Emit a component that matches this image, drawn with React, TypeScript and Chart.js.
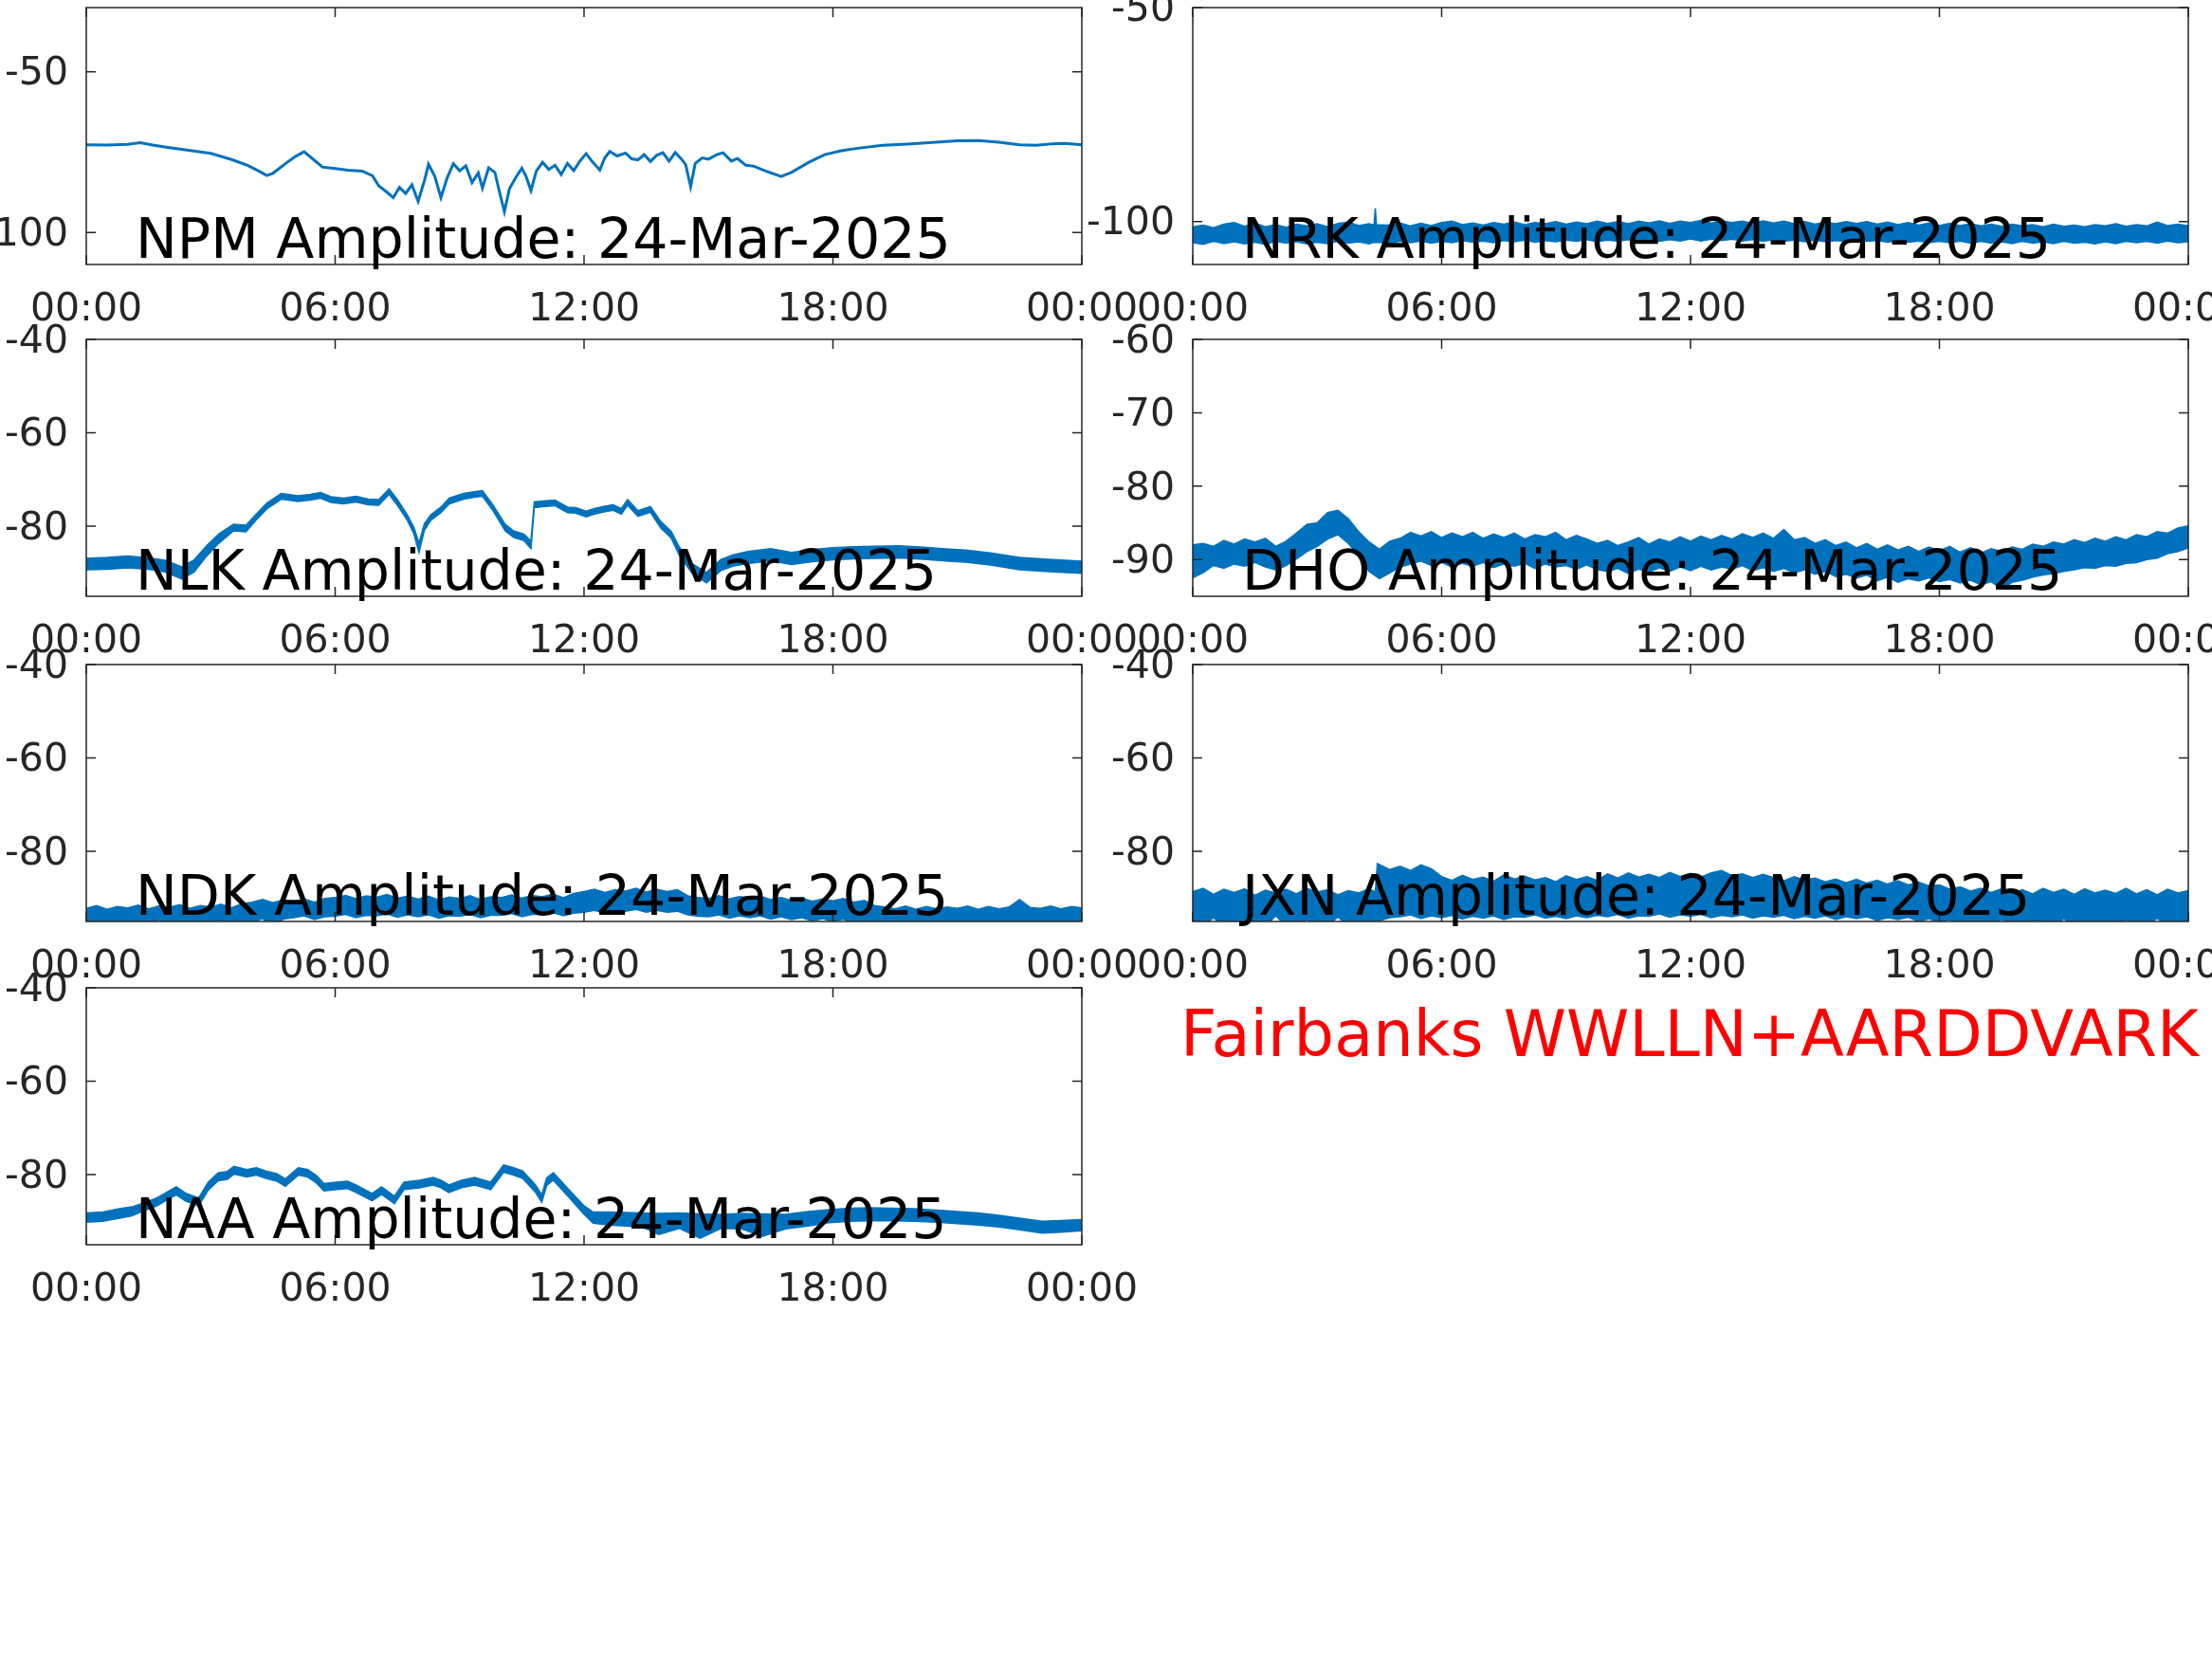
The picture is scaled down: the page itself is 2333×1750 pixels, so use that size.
import React, { useEffect, useRef } from 'react';
import { Chart, registerables } from 'chart.js';

Chart.register(...registerables);

// ---------------- data ----------------
const xTickValues = [0, 6, 12, 18, 24];
const xTickLabels = ['00:00', '06:00', '12:00', '18:00', '00:00'];
const dateLabel = '24-Mar-2025';
const stationText = 'Fairbanks WWLLN+AARDDVARK';

const npmYTicks = [-100, -50];
const nrkYTicks = [-100, -50];
const nlkYTicks = [-80, -60, -40];
const dhoYTicks = [-90, -80, -70, -60];
const ndkYTicks = [-80, -60, -40];
const jxnYTicks = [-80, -60, -40];
const naaYTicks = [-80, -60, -40];

// sample times (hours) of the quarter-hour envelope readings
const quarterHours = [
  0, 0.25, 0.5, 0.75, 1, 1.25, 1.5, 1.75, 2, 2.25, 2.5, 2.75, 3, 3.25, 3.5, 3.75,
  4, 4.25, 4.5, 4.75, 5, 5.25, 5.5, 5.75, 6, 6.25, 6.5, 6.75, 7, 7.25, 7.5, 7.75,
  8, 8.25, 8.5, 8.75, 9, 9.25, 9.5, 9.75, 10, 10.25, 10.5, 10.75, 11, 11.25, 11.5, 11.75,
  12, 12.25, 12.5, 12.75, 13, 13.25, 13.5, 13.75, 14, 14.25, 14.5, 14.75, 15, 15.25, 15.5, 15.75,
  16, 16.25, 16.5, 16.75, 17, 17.25, 17.5, 17.75, 18, 18.25, 18.5, 18.75, 19, 19.25, 19.5, 19.75,
  20, 20.25, 20.5, 20.75, 21, 21.25, 21.5, 21.75, 22, 22.25, 22.5, 22.75, 23, 23.25, 23.5, 23.75, 24,
];

// NPM (thin line)
const npmTime = [0, 0.5, 1, 1.3, 1.6, 2, 2.5, 3, 3.5, 3.9, 4.2, 4.35, 4.5, 4.8, 5.05, 5.25, 5.45, 5.7, 6, 6.3, 6.65, 6.9, 7.05, 7.25, 7.4, 7.55, 7.7, 7.85, 8, 8.15, 8.25, 8.4, 8.55, 8.7, 8.85, 9, 9.15, 9.3, 9.45, 9.55, 9.7, 9.85, 9.95, 10.08, 10.2, 10.35, 10.5, 10.6, 10.72, 10.85, 11, 11.15, 11.3, 11.45, 11.6, 11.75, 11.9, 12.05, 12.2, 12.38, 12.5, 12.62, 12.8, 13, 13.15, 13.3, 13.45, 13.6, 13.75, 13.9, 14.05, 14.2, 14.35, 14.45, 14.57, 14.68, 14.85, 15, 15.2, 15.35, 15.55, 15.7, 15.9, 16.1, 16.4, 16.75, 17, 17.4, 17.8, 18.2, 18.6, 19.2, 19.8, 20.4, 21, 21.5, 22, 22.5, 22.9, 23.3, 23.6, 24];
const npmValue = [-72.7, -72.8, -72.6, -72.1, -72.8, -73.6, -74.5, -75.4, -77.3, -79.2, -81.2, -82.3, -81.6, -78.6, -76.3, -74.9, -77.0, -79.7, -80.1, -80.6, -80.9, -82.4, -85.5, -87.5, -89.2, -86.0, -87.9, -85.2, -90.3, -84.0, -78.8, -82.5, -89.2, -83.0, -78.6, -80.8, -79.3, -84.5, -81.5, -86.2, -79.9, -81.3, -86.8, -93.6, -86.5, -83.0, -80.0, -82.5, -87.0, -80.9, -78.2, -80.4, -79.1, -82.0, -78.5, -80.8, -77.8, -75.5, -78.0, -80.6, -76.8, -74.8, -76.2, -75.3, -77.1, -77.4, -75.8, -77.9, -76.0, -75.2, -77.8, -75.1, -77.2, -78.9, -85.8, -78.5, -76.8, -77.2, -75.8, -75.2, -77.8, -77.0, -79.1, -79.4, -81.0, -82.6, -81.3, -78.3, -75.8, -74.6, -73.8, -72.9, -72.5, -72.0, -71.5, -71.4, -71.9, -72.7, -72.9, -72.4, -72.3, -72.7];

// NRK (noise band, upper/lower envelope)
const nrkTime = [
  0, 0.25, 0.5, 0.75, 1, 1.25, 1.5, 1.75, 2, 2.25, 2.5, 2.75, 3, 3.25, 3.5, 3.75,
  4, 4.25, 4.37, 4.4, 4.43, 4.75, 5, 5.25, 5.5, 5.75, 6, 6.25, 6.5, 6.75, 7, 7.25, 7.5, 7.75,
  8, 8.25, 8.5, 8.75, 9, 9.25, 9.5, 9.75, 10, 10.25, 10.5, 10.75, 11, 11.25, 11.5, 11.75,
  12, 12.25, 12.5, 12.75, 13, 13.25, 13.5, 13.75, 14, 14.25, 14.5, 14.75, 15, 15.25, 15.5, 15.75,
  16, 16.25, 16.5, 16.75, 17, 17.25, 17.5, 17.75, 18, 18.25, 18.5, 18.75, 19, 19.25, 19.5, 19.75,
  20, 20.25, 20.5, 20.75, 21, 21.25, 21.5, 21.75, 22, 22.25, 22.5, 22.75, 23, 23.25, 23.5, 23.75, 24,
];
const nrkHigh = [
  -101.2, -100.8, -101.4, -100.6, -100.2, -101.1, -100.3, -101.2, -100.7, -101.3, -100.6, -101.0, -100.5, -101.2, -100.4, -100.1,
  -100.9, -100.5, -100.8, -96.9, -100.7, -100.8, -100.3, -101.0, -100.4, -100.9, -100.2, -99.9, -100.7, -100.3, -100.8, -100.2, -100.6, -100.1,
  -100.7, -100.2, -100.5, -100.0, -100.6, -100.1, -100.5, -99.9, -100.4, -100.0, -100.5, -99.9, -100.3, -99.8, -100.4, -99.9,
  -100.2, -99.7, -100.3, -99.8, -100.2, -99.9, -100.4, -99.8, -100.3, -99.9, -100.5, -100.0, -100.6, -100.1, -100.5, -100.0,
  -100.4, -100.0, -100.6, -100.1, -100.7, -100.2, -100.8, -100.3, -100.9, -100.4, -100.9, -100.5, -101.0, -100.6, -101.1, -100.6,
  -101.0, -100.7, -101.2, -100.6, -101.1, -100.8, -101.2, -100.7, -101.0, -100.5, -101.1, -100.7, -101.0, -100.1, -100.9, -100.6, -101.0,
];
const nrkLow = [
  -104.9, -105.3, -104.6, -105.1, -104.7, -105.2, -104.8, -105.3, -104.6, -105.0, -104.7, -105.2, -104.8, -105.1, -104.6, -105.0,
  -104.7, -105.2, -104.8, -104.9, -104.8, -105.0, -104.6, -104.9, -104.5, -105.0, -104.6, -104.9, -104.4, -104.8, -104.5, -104.9, -104.4, -104.7,
  -104.3, -104.8, -104.4, -104.7, -104.3, -104.6, -104.2, -104.7, -104.3, -104.6, -104.2, -104.5, -104.1, -104.6, -104.2, -104.5,
  -104.0, -104.5, -104.1, -104.4, -104.1, -104.5, -104.2, -104.6, -104.2, -104.6, -104.3, -104.7, -104.3, -104.7, -104.4, -104.6,
  -104.2, -104.6, -104.4, -104.8, -104.4, -104.8, -104.5, -104.9, -104.6, -104.9, -104.5, -105.0, -104.6, -105.0, -104.7, -105.1,
  -104.6, -105.0, -104.7, -105.1, -104.6, -105.0, -104.8, -105.2, -104.7, -105.1, -104.6, -104.9, -104.6, -105.0, -104.5, -104.9, -104.7,
];

// NLK
const nlkTime = [0, 0.5, 1, 1.5, 1.9, 2.3, 2.6, 2.9, 3.2, 3.55, 3.85, 4.1, 4.35, 4.7, 5.1, 5.4, 5.65, 5.9, 6.2, 6.5, 6.8, 7.05, 7.3, 7.5, 7.75, 7.9, 8.02, 8.15, 8.3, 8.55, 8.75, 9.1, 9.35, 9.55, 9.8, 10.1, 10.3, 10.55, 10.72, 10.8, 11, 11.3, 11.6, 11.8, 12.05, 12.25, 12.5, 12.7, 12.9, 13.05, 13.3, 13.6, 13.85, 14.1, 14.3, 14.6, 14.95, 15.3, 15.6, 15.95, 16.5, 17, 17.5, 18, 18.5, 19, 19.6, 20.2, 20.8, 21.2, 21.8, 22.5, 23.2, 24];
const nlkHigh = [-86.9, -86.7, -86.4, -86.8, -87.3, -88.7, -87.2, -84.2, -81.6, -79.6, -79.8, -77.4, -75.1, -73.0, -73.5, -73.2, -72.8, -73.7, -74.0, -73.6, -74.2, -74.3, -72.0, -74.3, -77.7, -80.3, -83.6, -79.5, -77.6, -75.9, -74.0, -73.0, -72.6, -72.4, -75.4, -79.6, -81.0, -81.7, -83.2, -74.8, -74.6, -74.4, -75.9, -76.0, -76.8, -76.2, -75.7, -75.4, -76.2, -74.3, -76.7, -75.8, -79.0, -81.1, -84.5, -88.0, -89.9, -87.1, -86.1, -85.4, -84.8, -85.6, -85.0, -84.6, -84.4, -84.3, -84.2, -84.5, -84.9, -85.1, -85.7, -86.7, -87.1, -87.5];
const nlkLow = [-89.3, -89.2, -88.9, -89.2, -89.8, -91.3, -89.8, -86.4, -83.6, -81.0, -81.2, -78.6, -76.3, -74.2, -74.7, -74.4, -74.0, -74.9, -75.2, -74.8, -75.4, -75.5, -73.2, -75.5, -78.9, -81.7, -85.6, -80.9, -78.8, -77.1, -75.2, -74.2, -73.8, -73.6, -76.6, -81.0, -82.4, -83.1, -84.8, -76.0, -75.8, -75.6, -77.1, -77.2, -78.0, -77.4, -76.9, -76.6, -77.4, -75.5, -77.9, -77.0, -80.4, -82.5, -86.3, -90.0, -92.1, -89.5, -88.5, -88.0, -87.4, -88.2, -87.6, -87.2, -87.0, -86.9, -86.8, -87.1, -87.5, -87.7, -88.3, -89.3, -89.7, -90.1];

// DHO (quarter-hour envelope)
const dhoHigh = [
  -88.0, -87.8, -88.2, -87.4, -87.9, -87.2, -87.6, -87.1, -88.2, -87.5, -86.4, -85.2, -85.0, -83.6, -83.3, -84.4,
  -86.2, -87.6, -88.6, -87.5, -87.1, -86.3, -86.8, -86.2, -87.0, -86.4, -86.9, -86.3, -87.1, -86.5, -87.0, -86.4,
  -87.2, -86.6, -86.9, -86.3, -87.3, -86.7, -87.2, -87.8, -87.4, -88.1, -87.6, -87.0, -87.9, -87.2, -87.6, -86.9,
  -87.5, -86.8, -87.3, -86.7, -87.2, -86.5, -87.0, -86.4, -87.1, -85.9, -87.3, -87.0, -87.8, -87.3, -88.1, -87.6,
  -88.4, -87.8, -88.6, -88.0, -88.7, -88.2, -88.9, -88.3, -88.8, -88.2, -89.0, -88.4, -89.1, -88.5, -88.9, -88.3,
  -88.6, -87.9, -88.2, -87.6, -87.9, -87.3, -87.7, -87.1, -87.5, -86.9, -87.3, -86.6, -86.9, -86.2, -86.4, -85.7, -85.4,
];
const dhoLow = [
  -92.5, -91.8, -90.8, -91.2, -90.6, -90.9, -90.4, -91.0, -91.4, -90.8, -89.9, -88.9, -88.2, -87.2, -86.6, -87.8,
  -89.4, -91.6, -92.6, -91.8, -91.0, -90.6, -90.2, -90.8, -90.4, -91.0, -90.5, -90.9, -90.4, -91.1, -90.6, -90.9,
  -90.5, -91.2, -90.6, -91.0, -90.8, -91.3, -90.7, -91.4, -91.6, -91.2, -91.9, -91.3, -91.7, -91.1, -91.6, -91.0,
  -91.5, -90.9, -91.4, -91.0, -91.3, -90.8, -91.5, -91.1, -91.6, -91.2, -91.8, -91.4, -92.0, -91.6, -92.3, -92.0,
  -92.5, -92.1, -92.9, -92.4, -93.1, -92.6, -92.9, -92.5, -93.0, -92.7, -93.2, -92.8, -93.4, -93.0, -94.0, -93.1,
  -92.8, -92.4, -92.1, -91.9, -91.6, -91.4, -91.1, -91.2, -90.8, -90.9, -90.5, -90.4, -90.0, -89.8, -89.2, -88.9, -88.4,
];

// NDK (quarter-hour envelope; lower edge runs below the axis)
const ndkHigh = [
  -92.2, -91.6, -92.4, -91.8, -92.1, -91.5, -92.3, -91.7, -92.0, -91.4, -92.2, -91.6, -91.9, -91.3, -92.1, -91.2,
  -90.9, -90.3, -91.0, -90.4, -90.8, -90.2, -90.9, -90.1, -89.9, -89.4, -90.1, -89.5, -89.8, -89.2, -90.0, -89.6,
  -90.2, -89.6, -90.4, -89.8, -90.1, -89.5, -90.3, -89.7, -89.9, -89.3, -90.0, -89.4, -89.7, -89.1, -89.9, -89.0,
  -88.6, -88.1, -88.8, -88.2, -88.5, -87.9, -88.7, -88.1, -88.6, -88.2, -89.5, -89.9, -90.1, -89.5, -90.2, -89.7,
  -90.0, -89.6, -90.3, -89.9, -90.5, -90.0, -90.7, -90.2, -90.6, -90.1, -90.9, -90.5, -91.6, -91.9, -92.3, -91.7,
  -92.4, -91.8, -92.3, -91.9, -92.2, -91.7, -92.4, -91.8, -92.3, -91.9, -90.3, -92.0, -92.2, -91.7, -92.3, -91.8, -92.1,
];
const ndkLow = [
  -96, -96, -94.8, -96, -96, -96, -96, -94.6, -96, -96, -95.0, -96, -96, -94.7, -96, -96,
  -95.2, -94.4, -96, -94.5, -94.2, -93.8, -94.6, -94.0, -93.9, -93.5, -94.2, -93.7, -93.8, -93.4, -94.1, -93.6,
  -94.0, -93.6, -94.3, -93.8, -93.9, -93.5, -94.2, -93.7, -93.7, -93.3, -94.0, -93.5, -93.5, -93.1, -93.8, -93.2,
  -93.0, -92.6, -93.2, -92.7, -92.8, -92.4, -93.0, -92.6, -93.0, -92.8, -93.6, -93.9, -94.0, -93.6, -94.3, -93.8,
  -94.2, -93.8, -94.5, -94.0, -94.6, -94.2, -94.9, -94.4, -95.0, -94.5, -95.4, -94.8, -95.5, -96, -96, -96,
  -96, -96, -96, -96, -96, -96, -96, -96, -96, -96, -96, -96, -96, -96, -96, -96, -96,
];

// JXN (envelope; lower edge runs below the axis)
const jxnTime = [
  0, 0.25, 0.5, 0.75, 1, 1.25, 1.5, 1.75, 2, 2.25, 2.5, 2.75, 3, 3.25, 3.5, 3.75,
  4, 4.25, 4.4, 4.45, 4.75, 5, 5.25, 5.5, 5.75, 6, 6.25, 6.5, 6.75, 7, 7.25, 7.5, 7.75,
  8, 8.25, 8.5, 8.75, 9, 9.25, 9.5, 9.75, 10, 10.25, 10.5, 10.75, 11, 11.25, 11.5, 11.75,
  12, 12.25, 12.5, 12.75, 13, 13.25, 13.5, 13.75, 14, 14.25, 14.5, 14.75, 15, 15.25, 15.5, 15.75,
  16, 16.25, 16.5, 16.75, 17, 17.25, 17.5, 17.75, 18, 18.25, 18.5, 18.75, 19, 19.25, 19.5, 19.75,
  20, 20.25, 20.5, 20.75, 21, 21.25, 21.5, 21.75, 22, 22.25, 22.5, 22.75, 23, 23.25, 23.5, 23.75, 24,
];
const jxnHigh = [
  -88.6, -87.9, -89.2, -88.1, -88.8, -88.0, -89.4, -88.3, -88.9, -88.1, -89.1, -87.9, -88.7, -88.2, -89.3, -88.4,
  -88.9, -88.0, -88.7, -82.6, -83.9, -83.2, -84.1, -82.9, -83.7, -85.4, -86.2, -85.1, -86.0, -85.5, -86.4, -85.0, -85.9,
  -85.3, -86.1, -85.6, -86.5, -85.2, -86.0, -85.4, -86.2, -84.8, -85.7, -84.6, -85.5, -84.9, -85.6, -84.5, -85.4,
  -84.7, -85.5, -84.6, -84.1, -85.2, -84.8, -85.6, -84.9, -85.6, -86.3, -85.4, -86.1, -85.7, -86.5, -85.9, -86.7,
  -86.0, -86.8, -86.2, -87.0, -86.3, -87.2, -86.6, -87.4, -87.2, -88.1, -87.6, -88.5, -87.9, -88.8, -88.0, -89.0,
  -88.2, -89.1, -87.9, -88.8, -88.1, -89.2, -88.0, -88.9, -88.3, -89.0, -87.9, -89.1, -88.2, -89.3, -88.1, -88.9, -88.4,
];
const jxnLow = [
  -96, -96, -94.2, -96, -96, -94.5, -96, -96, -93.8, -96, -96, -94.6, -96, -96, -94.0, -96,
  -96, -94.8, -96, -95.0, -94.2, -94.0, -93.6, -94.4, -93.8, -94.2, -93.7, -94.5, -93.9, -94.3, -93.8, -94.6, -94.0,
  -94.1, -93.6, -94.3, -93.9, -94.4, -93.8, -94.2, -93.7, -94.0, -93.5, -94.3, -93.8, -93.9, -93.4, -94.1, -93.6,
  -93.9, -93.5, -94.2, -93.7, -94.0, -93.6, -94.3, -93.8, -94.1, -93.7, -94.4, -93.9, -94.3, -93.8, -94.6, -94.0,
  -94.4, -94.0, -94.8, -94.2, -94.6, -94.1, -95.0, -94.4, -95.2, -94.6, -96, -94.8, -96, -96, -94.5, -96,
  -96, -94.7, -96, -96, -94.4, -96, -96, -94.9, -96, -96, -94.6, -96, -96, -94.3, -96, -96, -96,
];

// NAA
const naaTime = [0, 0.4, 0.8, 1.1, 1.4, 1.7, 1.95, 2.17, 2.4, 2.71, 2.94, 3.18, 3.4, 3.56, 3.87, 4.1, 4.33, 4.6, 4.8, 5.11, 5.34, 5.55, 5.73, 6.04, 6.3, 6.5, 6.89, 7.12, 7.43, 7.66, 8.04, 8.36, 8.55, 8.74, 9.05, 9.36, 9.75, 10.06, 10.3, 10.52, 10.83, 10.98, 11.1, 11.26, 11.6, 11.99, 12.22, 12.6, 13, 13.4, 13.8, 14.3, 14.8, 15.3, 15.8, 16.3, 16.86, 17.4, 17.9, 18.41, 18.9, 19.4, 19.95, 20.5, 21, 21.5, 22, 22.5, 23.04, 23.5, 24];
const naaHigh = [-88.2, -88.0, -87.3, -86.9, -86.0, -85.0, -83.7, -82.6, -84.0, -85.0, -81.6, -79.6, -79.3, -78.2, -78.9, -78.5, -79.2, -79.8, -80.9, -78.5, -78.9, -80.2, -81.9, -81.6, -81.4, -82.2, -84.0, -82.6, -84.6, -81.6, -81.2, -80.6, -81.2, -82.2, -81.2, -80.6, -81.6, -77.9, -78.5, -79.2, -82.2, -84.3, -80.7, -79.6, -82.9, -86.6, -88.0, -88.0, -88.1, -88.2, -88.3, -88.2, -88.4, -88.5, -88.3, -88.4, -88.5, -87.9, -87.5, -87.2, -87.1, -87.2, -87.3, -87.6, -87.9, -88.2, -88.7, -89.3, -90.0, -89.8, -89.6];
const naaLow = [-90.2, -90.0, -89.3, -88.8, -87.7, -86.7, -85.4, -84.3, -85.7, -86.7, -83.3, -81.3, -81.0, -79.9, -80.5, -80.1, -80.8, -81.4, -82.5, -80.1, -80.5, -81.8, -83.5, -83.2, -83.0, -83.8, -85.6, -84.2, -86.2, -83.2, -82.8, -82.2, -82.8, -83.8, -82.8, -82.2, -83.2, -79.5, -80.1, -80.8, -83.8, -85.9, -82.3, -81.2, -84.5, -88.4, -90.4, -90.8, -91.0, -91.2, -92.8, -91.5, -93.6, -91.5, -91.6, -93.2, -91.6, -91.0, -90.3, -90.0, -89.9, -89.9, -90.0, -90.2, -90.5, -90.8, -91.2, -91.8, -92.5, -92.3, -92.0];

// ---------------- layout / style ----------------
const LINE_COLOR = '#0072BD';
const AXIS_COLOR = '#262626';
const FONT = 'DejaVu Sans';
const TICK_FONT_SIZE = 41;
const TITLE_FONT_SIZE = 58.6;
const TITLE_OFFSET_X = 52;
const TITLE_OFFSET_Y = 7;
const TICK_LEN = 10;
const COL_LEFT = [91, 1258];
const ROW_TOP = [8, 358, 701, 1042];
const PLOT_W = 1050;
const PLOT_H = 271;
const AXIS_W = 150;
const AXIS_H = 90;
const PAD_TOP = 60;
const PAD_RIGHT = 100;

type PanelCfg = {
  name: string; col: number; row: number; yMin: number; yMax: number; yTicks: number[];
  time: number[]; high: number[]; low: number[] | null;
};

const panels: PanelCfg[] = [
  { name: 'NPM', col: 0, row: 0, yMin: -110, yMax: -30, yTicks: npmYTicks, time: npmTime, high: npmValue, low: null },
  { name: 'NRK', col: 1, row: 0, yMin: -110, yMax: -50, yTicks: nrkYTicks, time: nrkTime, high: nrkHigh, low: nrkLow },
  { name: 'NLK', col: 0, row: 1, yMin: -95, yMax: -40, yTicks: nlkYTicks, time: nlkTime, high: nlkHigh, low: nlkLow },
  { name: 'DHO', col: 1, row: 1, yMin: -95, yMax: -60, yTicks: dhoYTicks, time: quarterHours, high: dhoHigh, low: dhoLow },
  { name: 'NDK', col: 0, row: 2, yMin: -95, yMax: -40, yTicks: ndkYTicks, time: quarterHours, high: ndkHigh, low: ndkLow },
  { name: 'JXN', col: 1, row: 2, yMin: -95, yMax: -40, yTicks: jxnYTicks, time: jxnTime, high: jxnHigh, low: jxnLow },
  { name: 'NAA', col: 0, row: 3, yMin: -95, yMax: -40, yTicks: naaYTicks, time: naaTime, high: naaHigh, low: naaLow },
];

function Panel({ cfg }: { cfg: PanelCfg }) {
  const ref = useRef<HTMLCanvasElement | null>(null);
  const cw = AXIS_W + PLOT_W + PAD_RIGHT;
  const ch = PAD_TOP + PLOT_H + AXIS_H;
  useEffect(() => {
    if (!ref.current) return;
    const title = `${cfg.name} Amplitude: ${dateLabel}`;
    const framePlugin = {
      id: 'matlabFrame',
      afterDatasetsDraw(chart: any) {
        const { ctx, chartArea: a, scales } = chart;
        ctx.save();
        ctx.strokeStyle = AXIS_COLOR;
        ctx.lineWidth = 1.5;
        ctx.strokeRect(a.left, a.top, a.right - a.left, a.bottom - a.top);
        ctx.beginPath();
        for (const v of xTickValues) {
          const px = scales.x.getPixelForValue(v);
          ctx.moveTo(px, a.bottom); ctx.lineTo(px, a.bottom - TICK_LEN);
          ctx.moveTo(px, a.top); ctx.lineTo(px, a.top + TICK_LEN);
        }
        for (const v of cfg.yTicks) {
          const py = scales.y.getPixelForValue(v);
          ctx.moveTo(a.left, py); ctx.lineTo(a.left + TICK_LEN, py);
          ctx.moveTo(a.right, py); ctx.lineTo(a.right - TICK_LEN, py);
        }
        ctx.stroke();
        ctx.fillStyle = '#000000';
        ctx.font = `${TITLE_FONT_SIZE}px "${FONT}"`;
        ctx.textAlign = 'left';
        ctx.textBaseline = 'alphabetic';
        ctx.fillText(title, a.left + TITLE_OFFSET_X, a.bottom - TITLE_OFFSET_Y);
        ctx.restore();
      },
    };
    const hiPts = cfg.time.map((t, i) => ({ x: t, y: cfg.high[i] }));
    const datasets: any[] = [
      { data: hiPts, borderColor: LINE_COLOR, borderWidth: cfg.low ? 1.5 : 3, fill: false, pointRadius: 0, clip: 0 },
    ];
    if (cfg.low) {
      const loPts = cfg.time.map((t, i) => ({ x: t, y: (cfg.low as number[])[i] }));
      datasets.push({ data: loPts, borderColor: LINE_COLOR, borderWidth: 1.5, fill: '-1', backgroundColor: LINE_COLOR, pointRadius: 0, clip: 0 });
    }
    const tickFont = { family: FONT, size: TICK_FONT_SIZE };
    const chart = new Chart(ref.current, {
      type: 'line',
      data: { datasets },
      options: {
        animation: false,
        responsive: false,
        maintainAspectRatio: false,
        devicePixelRatio: 1,
        events: [],
        layout: { padding: { left: 0, top: PAD_TOP, right: PAD_RIGHT, bottom: 0 } },
        plugins: { legend: { display: false }, tooltip: { enabled: false }, title: { display: false } },
        elements: { point: { radius: 0 }, line: { tension: 0 } },
        scales: {
          x: {
            type: 'linear', min: 0, max: 24,
            grid: { display: false, drawTicks: false }, border: { display: false },
            afterBuildTicks: (s: any) => { s.ticks = xTickValues.map((v) => ({ value: v })); },
            afterFit: (s: any) => { s.height = AXIS_H; },
            ticks: {
              autoSkip: false, maxRotation: 0, minRotation: 0, padding: 24, color: AXIS_COLOR, font: tickFont,
              callback: (_v: any, i: number) => xTickLabels[i],
            },
          },
          y: {
            type: 'linear', min: cfg.yMin, max: cfg.yMax,
            grid: { display: false, drawTicks: false }, border: { display: false },
            afterBuildTicks: (s: any) => { s.ticks = cfg.yTicks.map((v) => ({ value: v })); },
            afterFit: (s: any) => { s.width = AXIS_W; },
            ticks: { autoSkip: false, padding: 19, labelOffset: 3, color: AXIS_COLOR, font: tickFont, callback: (v: any) => String(v) },
          },
        },
      } as any,
      plugins: [framePlugin],
    });
    return () => chart.destroy();
  }, [cfg]);
  return (
    <canvas
      ref={ref}
      width={cw}
      height={ch}
      style={{
        position: 'absolute',
        left: COL_LEFT[cfg.col] - AXIS_W,
        top: ROW_TOP[cfg.row] - PAD_TOP,
        width: cw,
        height: ch,
      }}
    />
  );
}

export default function App() {
  return (
    <div style={{ position: 'fixed', left: 0, top: 0, width: 2333, height: 1750, overflow: 'hidden', background: '#ffffff' }}>
      {panels.map((p) => <Panel key={p.name} cfg={p} />)}
      <div
        style={{
          position: 'absolute', left: 1245, top: 1057.6, fontFamily: `"${FONT}"`, fontSize: 67, lineHeight: '67px',
          color: '#ff0000', whiteSpace: 'nowrap',
        }}
      >
        {stationText}
      </div>
    </div>
  );
}
